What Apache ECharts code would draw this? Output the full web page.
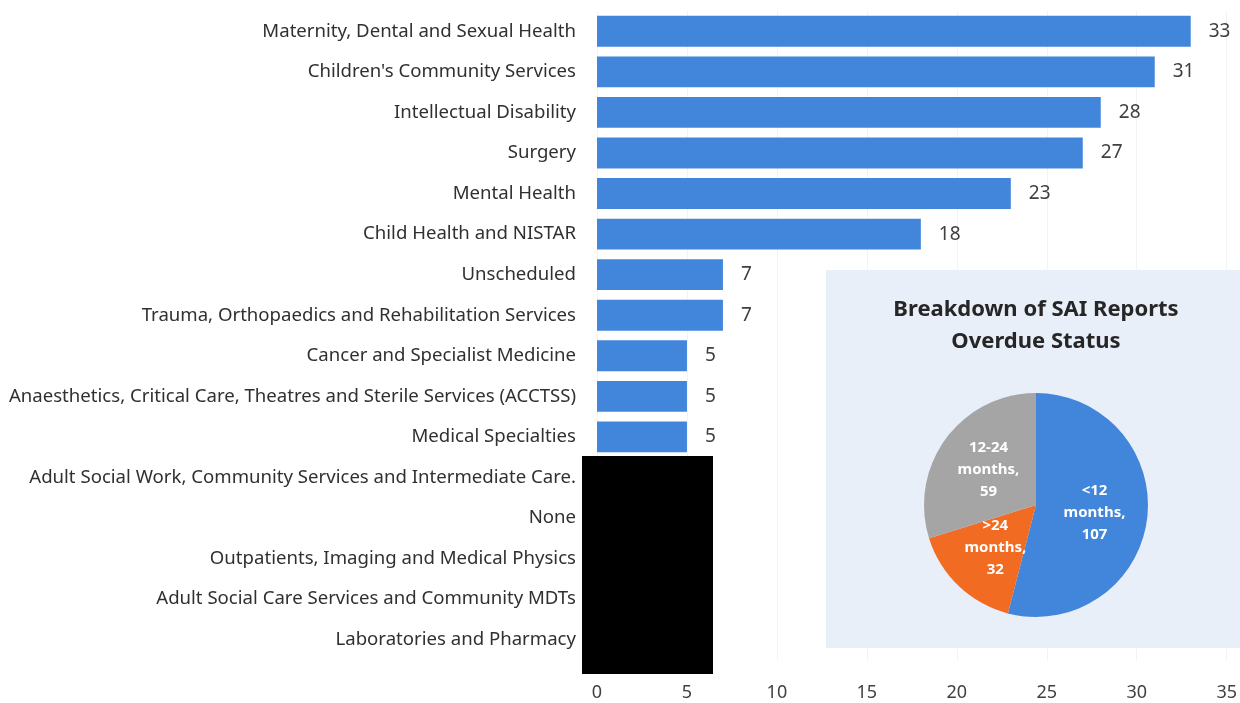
<!DOCTYPE html>
<html><head><meta charset="utf-8">
<script src="https://cdn.jsdelivr.net/npm/echarts@6/dist/echarts.min.js"></script>
<style>html,body{margin:0;padding:0;background:#fff}#c{width:1240px;height:703px}</style>
</head><body><div id="c"></div>
<script>
const categories = [
  'Maternity, Dental and Sexual Health',
  "Children's Community Services",
  'Intellectual Disability',
  'Surgery',
  'Mental Health',
  'Child Health and NISTAR',
  'Unscheduled',
  'Trauma, Orthopaedics and Rehabilitation Services',
  'Cancer and Specialist Medicine',
  'Anaesthetics, Critical Care, Theatres and Sterile Services (ACCTSS)',
  'Medical Specialties',
  'Adult Social Work, Community Services and Intermediate Care.',
  'None',
  'Outpatients, Imaging and Medical Physics',
  'Adult Social Care Services and Community MDTs',
  'Laboratories and Pharmacy'
];
// last five values are hidden under the redaction box
const values = [33, 31, 28, 27, 23, 18, 7, 7, 5, 5, 5, null, null, null, null, null];
const xTicks = [0, 5, 10, 15, 20, 25, 30, 35];

const pieNames = ['<12 months', '>24 months', '12-24 months'];
const pieValues = [107, 32, 59];
const pieColors = ['#4286dc', '#f26b22', '#a5a5a5'];

const chart = echarts.init(document.getElementById('c'));
const FONT = 'Noto Sans';
chart.setOption({
  animation: false,
  textStyle: {fontFamily: FONT},
  grid: {left: 597, right: 8, top: 11, bottom: 43, containLabel: false},
  xAxis: {
    type: 'value', min: xTicks[0], max: xTicks[xTicks.length - 1], interval: 5,
    axisLine: {show: false}, axisTick: {show: false},
    splitLine: {lineStyle: {color: '#f3f3f3'}},
    axisLabel: {fontSize: 18, color: '#404040', margin: 24, fontFamily: FONT}
  },
  yAxis: {
    type: 'category', inverse: true, data: categories,
    axisLine: {show: false}, axisTick: {show: false},
    axisLabel: {fontSize: 18.6, color: '#303030', margin: 21, fontFamily: FONT}
  },
  series: [{
    type: 'bar', data: values, barCategoryGap: '24%', z: 2,
    itemStyle: {color: '#4286dc'},
    label: {show: true, position: 'right', distance: 18, fontSize: 19, color: '#404040', fontFamily: FONT}
  }, {
    type: 'pie', center: [1036, 505], radius: 112, startAngle: 90, z: 3,
    data: pieNames.map((n, i) => ({name: n, value: pieValues[i], itemStyle: {color: pieColors[i]}})),
    label: {
      show: true, position: 'inside', color: '#ffffff', fontWeight: 'bold', fontSize: 15, lineHeight: 22,
      fontFamily: FONT,
      formatter: p => p.name.replace(' ', '\n') + ',\n' + p.value
    },
    labelLine: {show: false}
  }],
  graphic: [
    {type: 'rect', z: 1, shape: {x: 826, y: 270, width: 414, height: 378}, style: {fill: '#e9eff9'}},
    {type: 'text', z: 10, x: 1036, y: 294, style: {
      text: 'Breakdown of SAI Reports\nOverdue Status', align: 'center', fontSize: 22, fontWeight: 'bold',
      lineHeight: 32, fill: '#262626', fontFamily: FONT}},
    {type: 'rect', z: 100, shape: {x: 582, y: 456, width: 131, height: 218}, style: {fill: '#000000'}}
  ]
});
</script></body></html>
